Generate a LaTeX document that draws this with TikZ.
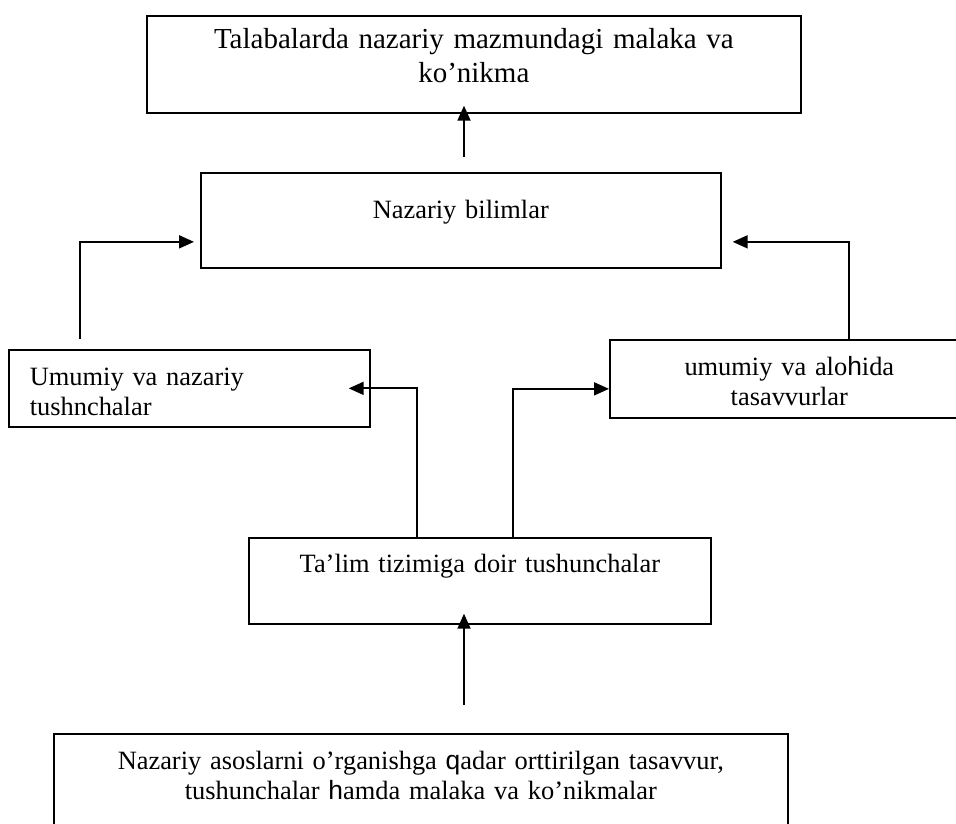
\documentclass[tikz,border=0pt]{standalone}
\usepackage{fontspec}
\setmainfont{Liberation Serif}
\newfontfamily\arialfont{Liberation Sans}
\usetikzlibrary{arrows.meta}
\tikzset{%
  >={Triangle[length=15pt,width=13pt]},
  % Specifications for style of nodes:
  box/.style  = {rectangle, draw=black, line width=1.7pt,
                 inner xsep=0pt, inner ysep=0pt, align=center,
                 anchor=north west, font=\fontsize{26.4}{30}\selectfont},
  link/.style = {->, line width=1.8pt},
}

\begin{document}
\begin{tikzpicture}[x=1pt, y=-1pt]
  \useasboundingbox (0,0) rectangle (956,823);
  % Specification of nodes (position, etc.)
  \node (top)      [box, text width=654pt, text height=33pt, text depth=64pt,
                    font=\fontsize{29}{34}\selectfont] at (146,15)
                   {Talabalarda nazariy mazmundagi malaka va\\ ko’nikma};
  \node (nazariy)  [box, text width=520pt, text height=46pt, text depth=49pt]
                   at (200,172) {Nazariy bilimlar};
  \node (umumiy)   [box, text width=319pt, inner xsep=21pt, align=left,
                    text height=36pt, text depth=41pt] at (8,349)
                   {Umumiy va nazariy\\ tushnchalar};
  \node (tasavvur) [box, text width=359pt, text height=36pt, text depth=42pt]
                   at (609,339) {umumiy va alo{\arialfont h}ida\\ tasavvurlar};
  \node (talim)    [box, text width=462pt, text height=35pt, text depth=51pt]
                   at (248,537) {Ta’lim tizimiga doir tushunchalar};
  \node (base)     [box, text width=734pt, text height=36pt, text depth=109pt]
                   at (53,733) {Nazariy asoslarni o’rganishga {\arialfont q}adar orttirilgan tasavvur,\\
                   tushunchalar {\arialfont h}amda malaka va ko’nikmalar};

  % free ends of the connectors
  \coordinate (upfoot)    at ([xshift=264pt,yshift=15pt]nazariy.north west);
  \coordinate (leftfoot)  at ([xshift=72pt,yshift=10pt]umumiy.north west);
  \coordinate (rightfoot) at ([xshift=240pt]tasavvur.north west);
  \coordinate (talimL)    at ([xshift=169pt]talim.north west);
  \coordinate (talimR)    at ([xshift=265pt]talim.north west);
  \coordinate (basefoot)  at ([xshift=411pt,yshift=28pt]base.north west);

  % Specification of lines between nodes specified above
  \draw[link, shorten >=-8pt]  (upfoot) -- (upfoot |- top.south);
  \draw[link, shorten >=6pt]   (leftfoot) |- ([yshift=-21.5pt]nazariy.west);
  \draw[link, shorten >=11pt]  (rightfoot) |- ([yshift=-21.5pt]nazariy.east);
  \draw[link, shorten >=-22pt] (talimL) |- (umumiy.east);
  \draw[link]                  (talimR) |- ([yshift=-10pt]tasavvur.west);
  \draw[link, shorten >=-11pt] (basefoot) -- (basefoot |- talim.south);
\end{tikzpicture}
\end{document}
